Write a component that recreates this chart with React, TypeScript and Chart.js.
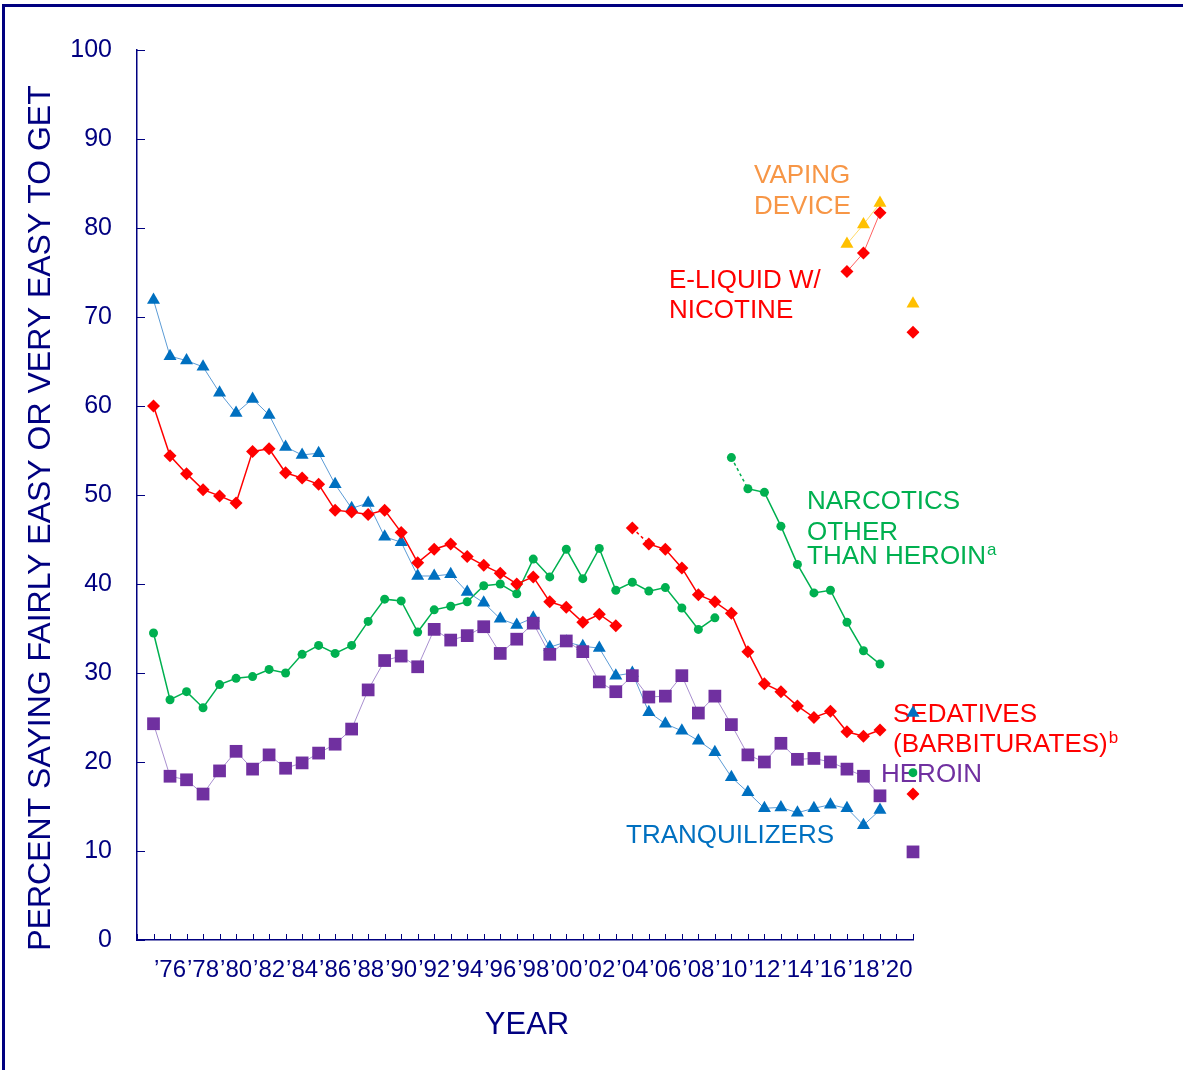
import React, { useEffect, useRef } from 'react';
import { Chart, registerables } from 'chart.js';

Chart.register(...registerables);

const NAVY = '#000080';
const FONT = '"Liberation Sans", Arial, sans-serif';

// Category slots along the x axis (a blank lead slot, survey years, and the separate 2020 column)
const slots = [
  '', '1975', '1976', '1977', '1978', '1979', '1980', '1981', '1982', '1983', '1984',
  '1985', '1986', '1987', '1988', '1989', '1990', '1991', '1992', '1993', '1994',
  '1995', '1996', '1997', '1998', '1999', '2000', '2001', '2002', '2003', '2004',
  '2005', '2006', '2007', '2008', '2009', '2010', '2011', '2012', '2013', '2014',
  '2015', '2016', '2017', '2018', '2019', '2020', '2020 (separate)',
];

const tickLabels = [
  '', '', '\u201976', '', '\u201978', '', '\u201980', '', '\u201982', '', '\u201984',
  '', '\u201986', '', '\u201988', '', '\u201990', '', '\u201992', '', '\u201994',
  '', '\u201996', '', '\u201998', '', '\u201900', '', '\u201902', '', '\u201904',
  '', '\u201906', '', '\u201908', '', '\u201910', '', '\u201912', '', '\u201914',
  '', '\u201916', '', '\u201918', '', '\u201920', '',
];

const yTicks = [0, 10, 20, 30, 40, 50, 60, 70, 80, 90, 100];

// Tranquilizers 1975-2019
const tranquilizers = [
  71.9, 65.6, 65.1, 64.4, 61.5, 59.2, 60.8, 59.0, 55.4, 54.5,
  54.7, 51.2, 48.5, 49.1, 45.3, 44.7, 40.9, 40.9, 41.1, 39.1,
  37.9, 36.1, 35.4, 36.2, 32.9, 33.5, 33.0, 32.8, 29.7, 30.0,
  25.6, 24.3, 23.5, 22.4, 21.1, 18.3, 16.6, 14.8, 14.9, 14.3,
  14.8, 15.2, 14.8, 12.9, 14.6,
];
const tranquilizers2020 = 25.5;

// Sedatives (barbiturates) 1975-2003, then revised question 2004-2019
const sedativesOld = [
  60.0, 54.4, 52.4, 50.6, 49.9, 49.1, 54.9, 55.2, 52.5, 51.9,
  51.2, 48.3, 48.1, 47.8, 48.3, 45.8, 42.4, 43.9, 44.5, 43.1,
  42.1, 41.2, 40.0, 40.8, 38.0, 37.4, 35.7, 36.6, 35.3,
];
const sedativesNew = [
  46.3, 44.5, 43.9, 41.8, 38.8, 38.0, 36.7, 32.4, 28.8, 27.9,
  26.3, 25.0, 25.7, 23.4, 22.9, 23.6,
];
const sedatives2020 = 16.4;

// Narcotics other than heroin 1975-2009, then revised question 2010-2019
const narcoticsOld = [
  34.5, 27.0, 27.9, 26.1, 28.7, 29.4, 29.6, 30.4, 30.0, 32.1,
  33.1, 32.2, 33.1, 35.8, 38.3, 38.1, 34.6, 37.1, 37.5, 38.0,
  39.8, 40.0, 38.9, 42.8, 40.8, 43.9, 40.6, 44.0, 39.3, 40.2,
  39.2, 39.6, 37.3, 34.9, 36.2,
];
const narcoticsNew = [54.2, 50.7, 50.3, 46.5, 42.2, 39.0, 39.3, 35.7, 32.5, 31.0];
const narcotics2020 = 18.8;

// Heroin 1975-2019
const heroin = [
  24.3, 18.4, 18.0, 16.4, 19.0, 21.2, 19.2, 20.8, 19.3, 19.9,
  21.0, 22.0, 23.7, 28.1, 31.4, 31.9, 30.7, 34.9, 33.7, 34.2,
  35.2, 32.2, 33.8, 35.6, 32.1, 33.6, 32.4, 29.0, 27.9, 29.7,
  27.3, 27.4, 29.7, 25.5, 27.4, 24.2, 20.8, 20.0, 22.1, 20.3,
  20.4, 20.0, 19.2, 18.4, 16.2,
];
const heroin2020 = 9.9;

// Vaping device and e-liquid with nicotine 2017-2019
const vaping = [78.2, 80.4, 82.8];
const vaping2020 = 71.5;
const eLiquid = [75.1, 77.2, 81.7];
const eLiquid2020 = 68.3;

const SEPARATE_2020 = '2020 (separate)';

function place(firstYear: number, values: number[], extra?: number) {
  const out: (number | null)[] = slots.map(() => null);
  const start = slots.indexOf(String(firstYear));
  values.forEach((v, i) => { out[start + i] = v; });
  if (extra !== undefined) out[slots.indexOf(SEPARATE_2020)] = extra;
  return out;
}

const firstDashed = (year: number) => slots.indexOf(String(year));

const annotations = [
  { lines: ['VAPING', 'DEVICE'], color: '#F79646', x: 754, y: [183, 214] },
  { lines: ['E-LIQUID W/', 'NICOTINE'], color: '#FF0000', x: 669, y: [288, 318] },
  { lines: ['NARCOTICS', 'OTHER', 'THAN HEROIN'], color: '#00B050', x: 807, y: [509, 540, 564], sup: 'a' },
  { lines: ['SEDATIVES', '(BARBITURATES)'], color: '#FF0000', x: 893, y: [722, 752], sup: 'b' },
  { lines: ['HEROIN'], color: '#7030A0', x: 881, y: [782] },
  { lines: ['TRANQUILIZERS'], color: '#0070C0', x: 626, y: [843] },
];

const decor = {
  id: 'decor',
  beforeDatasetsDraw(chart: any) {
    const { ctx } = chart;
    ctx.save();
    ctx.textAlign = 'left';
    ctx.textBaseline = 'alphabetic';
    for (const a of annotations) {
      ctx.fillStyle = a.color;
      a.lines.forEach((line, i) => {
        ctx.font = `26px ${FONT}`;
        ctx.fillText(line, a.x, a.y[i]);
        if (a.sup && i === a.lines.length - 1) {
          const w = ctx.measureText(line).width;
          ctx.font = `17px ${FONT}`;
          ctx.fillText(a.sup, a.x + w + 1, a.y[i] - 9);
        }
      });
    }
    ctx.restore();
  },
  afterDraw(chart: any) {
    const { ctx, scales } = chart;
    const xs = scales.x;
    const ys = scales.y;
    ctx.save();
    // frame
    ctx.fillStyle = NAVY;
    ctx.fillRect(2, 4, 1181, 3);
    ctx.fillRect(2, 4, 3, 1066);
    // inner tick marks
    ctx.strokeStyle = NAVY;
    ctx.lineWidth = 1;
    ctx.beginPath();
    ys.ticks.forEach((_t: any, i: number) => {
      const py = Math.round(ys.getPixelForTick(i)) + 0.5;
      ctx.moveTo(xs.left, py);
      ctx.lineTo(xs.left + 8, py);
    });
    xs.ticks.forEach((_t: any, i: number) => {
      const px = Math.round(xs.getPixelForTick(i)) + 0.5;
      ctx.moveTo(px, ys.bottom);
      ctx.lineTo(px, ys.bottom - 6);
    });
    ctx.stroke();
    // axis titles
    ctx.fillStyle = NAVY;
    ctx.font = `31px ${FONT}`;
    ctx.textAlign = 'center';
    ctx.textBaseline = 'alphabetic';
    ctx.fillText('YEAR', 527, 1034);
    ctx.font = `32px ${FONT}`;
    ctx.translate(50, 518);
    ctx.rotate(-Math.PI / 2);
    ctx.fillText('PERCENT SAYING FAIRLY EASY OR VERY EASY TO GET', 0, 0);
    ctx.restore();
  },
};

export default function App() {
  const ref = useRef<HTMLCanvasElement>(null);
  useEffect(() => {
    const canvas = ref.current;
    if (!canvas) return;
    const chart = new Chart(canvas, {
      type: 'line',
      data: {
        labels: slots,
        datasets: [
          {
            label: 'Heroin',
            data: place(1975, heroin, heroin2020),
            borderColor: '#A88FCF',
            borderWidth: 1,
            pointStyle: 'rect',
            pointRadius: 9,
            pointBackgroundColor: '#7030A0',
            pointBorderColor: '#7030A0',
            pointBorderWidth: 0,
            order: 0,
          },
          {
            label: 'Sedatives (old)',
            data: place(1975, sedativesOld),
            borderColor: '#FF0000',
            borderWidth: 1.5,
            pointStyle: 'rectRot',
            pointRadius: 6.5,
            pointBackgroundColor: '#FF0000',
            pointBorderColor: '#FF0000',
            pointBorderWidth: 0,
            order: 1,
          },
          {
            label: 'Sedatives (new)',
            data: place(2004, sedativesNew, sedatives2020),
            borderColor: '#FF0000',
            borderWidth: 1.5,
            segment: {
              borderDash: (c: any) => (c.p0DataIndex === firstDashed(2004) ? [3, 3] : undefined),
            },
            pointStyle: 'rectRot',
            pointRadius: 6.5,
            pointBackgroundColor: '#FF0000',
            pointBorderColor: '#FF0000',
            pointBorderWidth: 0,
            order: 1,
          },
          {
            label: 'Tranquilizers',
            data: place(1975, tranquilizers, tranquilizers2020),
            borderColor: '#5B9BD5',
            borderWidth: 1,
            pointStyle: 'triangle',
            pointRadius: 7.5,
            pointBackgroundColor: '#0070C0',
            pointBorderColor: '#0070C0',
            pointBorderWidth: 0,
            order: 2,
          },
          {
            label: 'Narcotics (old)',
            data: place(1975, narcoticsOld),
            borderColor: '#00B050',
            borderWidth: 1.5,
            pointStyle: 'circle',
            pointRadius: 4.5,
            pointBackgroundColor: '#00B050',
            pointBorderColor: '#00B050',
            pointBorderWidth: 0,
            order: 3,
          },
          {
            label: 'Narcotics (new)',
            data: place(2010, narcoticsNew, narcotics2020),
            borderColor: '#00B050',
            borderWidth: 1.5,
            segment: {
              borderDash: (c: any) => (c.p0DataIndex === firstDashed(2010) ? [3, 3] : undefined),
            },
            pointStyle: 'circle',
            pointRadius: 4.5,
            pointBackgroundColor: '#00B050',
            pointBorderColor: '#00B050',
            pointBorderWidth: 0,
            order: 3,
          },
          {
            label: 'Vaping device',
            data: place(2017, vaping, vaping2020),
            borderColor: '#FFD966',
            borderWidth: 1,
            pointStyle: 'triangle',
            pointRadius: 7.5,
            pointBackgroundColor: '#FFC000',
            pointBorderColor: '#FFC000',
            pointBorderWidth: 0,
            order: 4,
          },
          {
            label: 'E-liquid with nicotine',
            data: place(2017, eLiquid, eLiquid2020),
            borderColor: '#FF6060',
            borderWidth: 1,
            pointStyle: 'rectRot',
            pointRadius: 6.5,
            pointBackgroundColor: '#FF0000',
            pointBorderColor: '#FF0000',
            pointBorderWidth: 0,
            order: 0,
          },
        ],
      },
      options: {
        responsive: false,
        animation: false,
        devicePixelRatio: 1,
        layout: { padding: { top: 50, right: 270, bottom: 0, left: 0 } },
        plugins: {
          legend: { display: false },
          tooltip: { enabled: false },
        },
        elements: { line: { tension: 0 } },
        scales: {
          x: {
            type: 'category',
            offset: false,
            grid: { display: true, drawOnChartArea: false, drawTicks: false },
            border: { display: true, color: NAVY, width: 1.5 },
            ticks: {
              autoSkip: false,
              maxRotation: 0,
              minRotation: 0,
              padding: 16,
              color: NAVY,
              font: { family: FONT, size: 24 },
              callback: (_v: any, i: number) => tickLabels[i],
            },
            afterFit: (s: any) => { s.height = 130; },
          },
          y: {
            min: 0,
            max: 100,
            afterBuildTicks: (s: any) => { s.ticks = yTicks.map((v) => ({ value: v })); },
            grid: { display: true, drawOnChartArea: false, drawTicks: false },
            border: { display: true, color: NAVY, width: 1.5 },
            ticks: {
              padding: 25,
              color: NAVY,
              font: { family: FONT, size: 25 },
            },
            afterFit: (s: any) => { s.width = 137; },
          },
        },
      },
      plugins: [decor],
    });
    return () => chart.destroy();
  }, []);

  return (
    <div style={{ position: 'absolute', left: 0, top: 0, width: 1183, height: 1070, background: '#ffffff' }}>
      <canvas ref={ref} width={1183} height={1070} style={{ display: 'block' }} />
    </div>
  );
}
